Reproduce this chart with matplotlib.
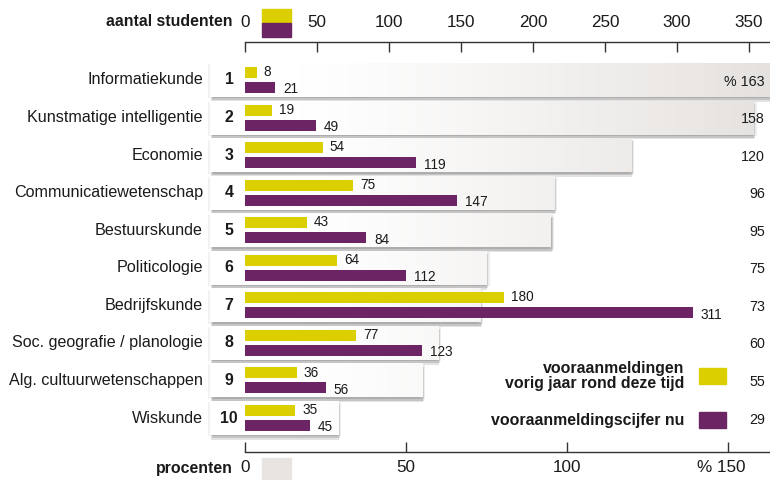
import matplotlib
matplotlib.use('Agg')
import matplotlib.pyplot as plt
import numpy as np
from matplotlib.patches import Rectangle
from matplotlib.transforms import ScaledTranslation
import matplotlib.patheffects as pe

# ---------------- data ----------------
categories = ['Informatiekunde', 'Kunstmatige intelligentie', 'Economie',
              'Communicatiewetenschap', 'Bestuurskunde', 'Politicologie',
              'Bedrijfskunde', 'Soc. geografie / planologie',
              'Alg. cultuurwetenschappen', 'Wiskunde']
ranks = [1, 2, 3, 4, 5, 6, 7, 8, 9, 10]
vorig_jaar = [8, 19, 54, 75, 43, 64, 180, 77, 36, 35]
nu = [21, 49, 119, 147, 84, 112, 311, 123, 56, 45]
procent = [163, 158, 120, 96, 95, 75, 73, 60, 55, 29]
student_ticks = [0, 50, 100, 150, 200, 250, 300, 350]
procent_ticks = [0, 50, 100, 150]
procent_ticklabels = ['0', '50', '100', '% 150']
legend_labels = ['vooraanmeldingen\nvorig jaar rond deze tijd', 'vooraanmeldingscijfer nu']

YELLOW = '#dbcf00'
PURPLE = '#6d2464'
GREY = '#e8e4e2'
TXT = '#1a1a1a'

plt.rcParams['font.family'] = ['Liberation Sans', 'DejaVu Sans']

# ---------------- layout (pixels) ----------------
W, H = 770, 480
X0, SX = 245, 1.44          # px of 0 students, px per student
PCTPX = 3.22                # px per percent
F = PCTPX / SX              # students per percent (scale factor)
ROW0, PITCH = 80, 37.56
AX_TOP, AX_BOT = 42, 452
PT = 0.72                   # points per pixel


def dx(px):
    return (px - X0) / SX


def dy(py):
    return (py - ROW0) / PITCH


fig = plt.figure(figsize=(W / 100, H / 100), dpi=100)
ax = fig.add_axes([0, (H - AX_BOT) / H, 1, (AX_BOT - AX_TOP) / H])
ax.patch.set_alpha(0)

rows = np.arange(len(categories))

# background (percent) boxes with shadow + gradient
box_left = dx(210)
bg = ax.barh(rows, [p * F - box_left for p in procent], left=box_left,
             height=34 / PITCH, color='white', zorder=1)
shadow = [
    pe.SimplePatchShadow(offset=(-1.2, -1.0), shadow_rgbFace='k', alpha=0.05),
    pe.SimplePatchShadow(offset=(2.2, -1.0), shadow_rgbFace='k', alpha=0.07),
    pe.SimplePatchShadow(offset=(0.5, -3.4), shadow_rgbFace='k', alpha=0.11),
    pe.SimplePatchShadow(offset=(1.2, -2.4), shadow_rgbFace='k', alpha=0.13),
    pe.Normal(),
]
xs = np.arange(W) + 0.5
t = np.clip((xs - 300) / (W - 300), 0, 1) ** 1.2
c0 = np.array([1.0, 1.0, 1.0])
c1 = np.array([229, 225, 222]) / 255
grad = (c0[None, :] * (1 - t[:, None]) + c1[None, :] * t[:, None])[None, :, :]
for b in bg:
    b.set_path_effects(shadow)
    im = ax.imshow(grad, extent=(dx(0), dx(W), dy(AX_BOT), dy(AX_TOP)),
                   aspect='auto', zorder=1.5, interpolation='bilinear')
    im.set_clip_path(b)

# student bars
bh = 11 / PITCH
ax.barh(rows - 0.2, vorig_jaar, height=bh, color=YELLOW, zorder=3)
ax.barh(rows + 0.2, nu, height=bh, color=PURPLE, zorder=3)

for i in rows:
    ax.text(dx(203), i, categories[i], ha='right', va='center',
            fontsize=11.6, color=TXT)
    ax.text(dx(229), i, str(ranks[i]), ha='center', va='center',
            fontsize=11.4, fontweight='bold', color=TXT)
    ax.text(vorig_jaar[i] + 7 / SX, i - 0.21, str(vorig_jaar[i]), ha='left', va='center',
            fontsize=9.8, color=TXT, zorder=4)
    ax.text(nu[i] + 8 / SX, i + 0.25, str(nu[i]), ha='left', va='center',
            fontsize=9.8, color=TXT, zorder=4)
    lab = ('% ' if i == 0 else '') + str(procent[i])
    ax.text(dx(765), i + 0.04, lab, ha='right', va='center',
            fontsize=10.3, color=TXT, zorder=4)

# bottom axis (percent) -- twin created first, then main ticks set to top
ax2 = ax.twiny()
ax2.patch.set_alpha(0)
ax2.set_xlim(dx(0) / F, dx(W) / F)
for s in ['left', 'right', 'top']:
    ax2.spines[s].set_visible(False)
ax2.spines['bottom'].set_visible(True)
ax2.spines['bottom'].set_bounds(0, dx(W) / F)
ax2.spines['bottom'].set_color('#333333')
ax2.spines['bottom'].set_linewidth(1.0)
ax2.xaxis.set_ticks_position('bottom')
ax2.xaxis.set_label_position('bottom')
ax2.set_xticks(procent_ticks)
ax2.set_xticklabels(procent_ticklabels)
ax2.tick_params(axis='x', direction='in', length=10 * PT, width=1.0, color='#333333',
                pad=6, labelsize=12.3, labelcolor=TXT, labelbottom=True, labeltop=False)
last = ax2.get_xticklabels()[-1]
last.set_transform(last.get_transform() + ScaledTranslation(-7 / 100, 0, fig.dpi_scale_trans))

# top axis (students)
for s in ['left', 'right', 'bottom']:
    ax.spines[s].set_visible(False)
ax.spines['top'].set_visible(True)
ax.spines['top'].set_bounds(0, dx(W))
ax.spines['top'].set_color('#333333')
ax.spines['top'].set_linewidth(1.0)
ax.xaxis.set_ticks_position('top')
ax.set_xticks(student_ticks)
ax.set_xticklabels([str(v) for v in student_ticks])
ax.tick_params(axis='x', direction='in', length=10 * PT, width=1.0, color='#333333',
               pad=8.5, labelsize=12.3, labelcolor=TXT, labeltop=True, labelbottom=False,
               top=True, bottom=False)
ax.set_yticks([])
ax.set_xlim(dx(0), dx(W))
ax.set_ylim(dy(AX_BOT), dy(AX_TOP))

# legend
ax.add_patch(Rectangle((dx(699), dy(384)), 27 / SX, -16 / PITCH, color=YELLOW, zorder=3, clip_on=False))
ax.add_patch(Rectangle((dx(699), dy(428)), 27 / SX, -16 / PITCH, color=PURPLE, zorder=3, clip_on=False))
ax.text(dx(684), dy(376), legend_labels[0], ha='right', va='center', fontsize=11.4,
        fontweight='bold', color=TXT, linespacing=1.05, multialignment='right')
ax.text(dx(684), dy(420), legend_labels[1], ha='right', va='center', fontsize=11.4,
        fontweight='bold', color=TXT)

# header / footer labels and swatches
fig.text(233 / W, 1 - 22 / H, 'aantal studenten', ha='right', va='center',
         fontsize=11.4, fontweight='bold', color=TXT)
fig.text(233 / W, 1 - 469 / H, 'procenten', ha='right', va='center',
         fontsize=11.4, fontweight='bold', color=TXT)
fig.add_artist(Rectangle((262 / W, 1 - 23 / H), 29 / W, 14 / H, transform=fig.transFigure,
                         color=YELLOW))
fig.add_artist(Rectangle((262 / W, 1 - 37 / H), 29 / W, 14 / H, transform=fig.transFigure,
                         color=PURPLE))
fig.add_artist(Rectangle((262 / W, 0), 29 / W, 22 / H, transform=fig.transFigure,
                         color=GREY))

fig.savefig('out.png', dpi=100)
